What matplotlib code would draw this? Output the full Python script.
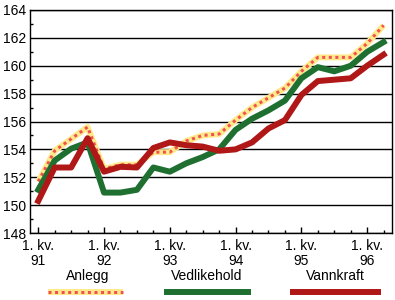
import matplotlib
matplotlib.use("Agg")
import matplotlib.pyplot as plt
from matplotlib.lines import Line2D
from matplotlib.ticker import MultipleLocator

# quarterly index values, 1. kv. 91 to 2. kv. 96
quarters = list(range(22))
year_labels = ["1. kv.\n91", "1. kv.\n92", "1. kv.\n93", "1. kv.\n94", "1. kv.\n95", "1. kv.\n96"]
anlegg = [151.7, 153.9, 154.75, 155.6, 152.6, 152.9, 152.9, 153.8, 153.8, 154.6, 155.0,
          155.1, 156.1, 157.0, 157.7, 158.4, 159.6, 160.6, 160.6, 160.6, 161.6, 162.9]
vedlikehold = [151.1, 153.2, 154.05, 154.5, 150.9, 150.9, 151.1, 152.7, 152.4, 153.0, 153.45,
               154.0, 155.4, 156.2, 156.8, 157.5, 159.1, 159.9, 159.6, 160.0, 161.0, 161.7]
vannkraft = [150.3, 152.7, 152.7, 154.8, 152.4, 152.75, 152.7, 154.1, 154.5, 154.3, 154.2,
             153.9, 154.0, 154.5, 155.5, 156.1, 157.9, 158.9, 159.0, 159.1, 160.0, 160.8]

plt.rcParams['font.family'] = ['Liberation Sans', 'DejaVu Sans']

fig = plt.figure(figsize=(3.95, 3.0), dpi=100)
ax = fig.add_axes([0.076, 0.2233, 0.916, 0.7434])

lw = 4.3
anl_base, anl_dot = "#ffe98a", "#f05050"
ved_col, van_col = "#1f7030", "#b01818"

# Anlegg: light yellow line with red dots on top
ax.plot(quarters, anlegg, color=anl_base, lw=lw, solid_capstyle="butt", zorder=3)
ax.plot(quarters, anlegg, color=anl_dot, lw=lw * 0.5, linestyle=(0, (1, 1.2)), zorder=3)
ax.plot(quarters, vedlikehold, color=ved_col, lw=lw, zorder=4)
ax.plot(quarters, vannkraft, color=van_col, lw=lw, zorder=5)

ax.set_xlim(-0.5, 21.5)
ax.set_ylim(148, 164)
ax.yaxis.set_major_locator(MultipleLocator(2))
ax.yaxis.set_minor_locator(MultipleLocator(1))
ax.grid(axis="y", which="major", color="black", lw=1.0)
ax.set_axisbelow(True)

ax.set_xticks(quarters[::4])
ax.set_xticklabels(year_labels, fontsize=10, linespacing=1.1)
ax.set_xticks(quarters, minor=True)
ax.tick_params(axis="x", which="major", direction="in", length=4, width=1, pad=4)
ax.tick_params(axis="x", which="minor", direction="in", length=2.5, width=1)
ax.tick_params(axis="y", which="major", direction="in", length=0, labelsize=10, pad=3)
ax.tick_params(axis="y", which="minor", direction="in", length=2.5, width=1)
for s in ax.spines.values():
    s.set_color("black")
    s.set_linewidth(1.0)

# legend: label above a line sample
entries = [("Anlegg", 0.223), ("Vedlikehold", 0.522), ("Vannkraft", 0.848)]
for name, tx in entries:
    fig.text(tx, 1 - 276 / 300, name, ha="center", va="center", fontsize=10)
y_line = 1 - 292 / 300
fig.add_artist(Line2D([0.121, 0.311], [y_line, y_line], color=anl_base, lw=lw, solid_capstyle="butt"))
fig.add_artist(Line2D([0.121, 0.311], [y_line, y_line], color=anl_dot, lw=lw * 0.5, linestyle=(0, (1, 1.2))))
fig.add_artist(Line2D([0.415, 0.635], [y_line, y_line], color=ved_col, lw=lw, solid_capstyle="butt"))
fig.add_artist(Line2D([0.734, 0.964], [y_line, y_line], color=van_col, lw=lw, solid_capstyle="butt"))

fig.savefig("out.png", dpi=100)
